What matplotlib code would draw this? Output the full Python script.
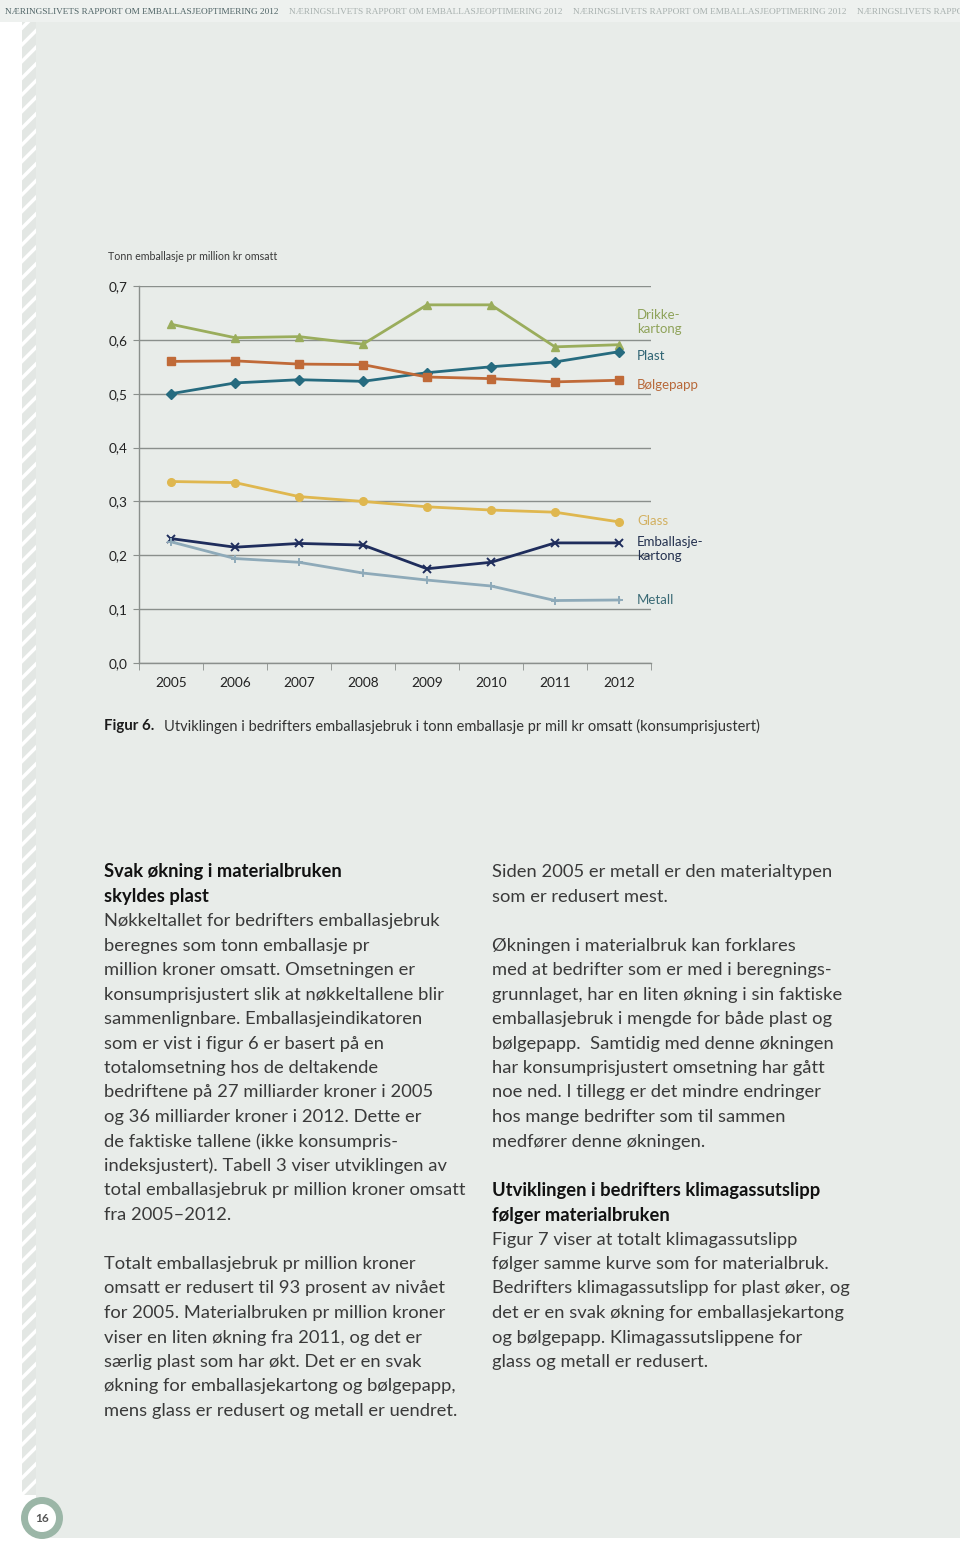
"""Figur 6: emballasjebruk pr million kr omsatt, with the surrounding report page."""

import matplotlib
matplotlib.use('Agg')
import matplotlib.pyplot as plt
from matplotlib.patches import Rectangle, Circle

W, H = 960, 1542

years = ['2005', '2006', '2007', '2008', '2009', '2010', '2011', '2012']
drikkekartong = [0.629, 0.604, 0.606, 0.592, 0.665, 0.665, 0.587, 0.591]
bolgepapp = [0.560, 0.561, 0.555, 0.554, 0.531, 0.528, 0.522, 0.525]
plast = [0.500, 0.520, 0.526, 0.523, 0.539, 0.550, 0.559, 0.578]
glass = [0.337, 0.335, 0.309, 0.300, 0.290, 0.284, 0.280, 0.262]
emballasjekartong = [0.231, 0.215, 0.222, 0.219, 0.175, 0.187, 0.223, 0.223]
metall = [0.225, 0.194, 0.187, 0.167, 0.154, 0.143, 0.116, 0.117]
y_ticks = [0.0, 0.1, 0.2, 0.3, 0.4, 0.5, 0.6, 0.7]
y_ticklabels = ['0,0', '0,1', '0,2', '0,3', '0,4', '0,5', '0,6', '0,7']

# (values, colour, marker, label, label colour, label y in px)
series = [
    (drikkekartong, '#9aad5c', '^', 'Drikke-\nkartong', '#8fa35a', 322),
    (plast, '#266b7f', 'D', 'Plast', '#2f6473', 356),
    (bolgepapp, '#c06a38', 's', 'Bølgepapp', '#b8693a', 385),
    (glass, '#dfb74f', 'o', 'Glass', '#d2b060', 521),
    (emballasjekartong, '#1f2d5c', 'x', 'Emballasje-\nkartong', '#24314f', 549),
    (metall, '#8eaab9', '+', 'Metall', '#3b6b76', 600),
]

left_col = [
    ('Svak økning i materialbruken', True),
    ('skyldes plast', True),
    ('Nøkkeltallet for bedrifters emballasjebruk', False),
    ('beregnes som tonn emballasje pr', False),
    ('million kroner omsatt. Omsetningen er', False),
    ('konsumprisjustert slik at nøkkeltallene blir', False),
    ('sammenlignbare. Emballasjeindikatoren', False),
    ('som er vist i figur 6 er basert på en', False),
    ('totalomsetning hos de deltakende', False),
    ('bedriftene på 27 milliarder kroner i 2005', False),
    ('og 36 milliarder kroner i 2012. Dette er', False),
    ('de faktiske tallene (ikke konsumpris-', False),
    ('indeksjustert). Tabell 3 viser utviklingen av', False),
    ('total emballasjebruk pr million kroner omsatt', False),
    ('fra 2005–2012.', False),
    ('', False),
    ('Totalt emballasjebruk pr million kroner', False),
    ('omsatt er redusert til 93 prosent av nivået', False),
    ('for 2005. Materialbruken pr million kroner', False),
    ('viser en liten økning fra 2011, og det er', False),
    ('særlig plast som har økt. Det er en svak', False),
    ('økning for emballasjekartong og bølgepapp,', False),
    ('mens glass er redusert og metall er uendret.', False),
]

right_col = [
    ('Siden 2005 er metall er den materialtypen', False),
    ('som er redusert mest.', False),
    ('', False),
    ('Økningen i materialbruk kan forklares', False),
    ('med at bedrifter som er med i beregnings-', False),
    ('grunnlaget, har en liten økning i sin faktiske', False),
    ('emballasjebruk i mengde for både plast og', False),
    ('bølgepapp.  Samtidig med denne økningen', False),
    ('har konsumprisjustert omsetning har gått', False),
    ('noe ned. I tillegg er det mindre endringer', False),
    ('hos mange bedrifter som til sammen', False),
    ('medfører denne økningen.', False),
    ('', False),
    ('Utviklingen i bedrifters klimagassutslipp', True),
    ('følger materialbruken', True),
    ('Figur 7 viser at totalt klimagassutslipp', False),
    ('følger samme kurve som for materialbruk.', False),
    ('Bedrifters klimagassutslipp for plast øker, og', False),
    ('det er en svak økning for emballasjekartong', False),
    ('og bølgepapp. Klimagassutslippene for', False),
    ('glass og metall er redusert.', False),
]

HEADER = 'NÆRINGSLIVETS RAPPORT OM EMBALLASJEOPTIMERING 2012'
BG = '#e8ece9'
SANS = ['Lato', 'DejaVu Sans']


def fx(x):
    return x / W


def fy(y):
    return 1 - y / H


fig = plt.figure(figsize=(W / 100, H / 100), dpi=100, facecolor='white')

# page background, header band and hatched strip
fig.patches.append(Rectangle((fx(36), fy(1538)), fx(924), 1538 / H,
                             transform=fig.transFigure, facecolor=BG,
                             edgecolor='none', zorder=-3))
fig.patches.append(Rectangle((0, fy(22)), 1, 22 / H,
                             transform=fig.transFigure, facecolor='#eef1ef',
                             edgecolor='none', zorder=-3))
plt.rcParams['hatch.linewidth'] = 2.5
fig.patches.append(Rectangle((fx(22), fy(1495)), fx(14), 1473 / H,
                             transform=fig.transFigure, facecolor='#e3e7e4',
                             edgecolor='white', hatch='//', lw=0, zorder=-3))

for i, x0 in enumerate([5, 289, 573, 857]):
    fig.text(fx(x0), fy(12), HEADER, fontsize=6.7, family='Liberation Serif',
             color='#4f6466' if i == 0 else '#a7b0ae', va='center')

# chart
ax = fig.add_axes([fx(139), fy(663), fx(651 - 139), (663 - 286) / H])
ax.set_zorder(2)
ax.set_facecolor('none')
x = range(len(years))
for values, color, marker, label, lcolor, ly in series:
    ms = 6 if marker in ('x', '+') else 5.5
    ax.plot(x, values, color=color, lw=2, marker=marker, ms=ms,
            mew=1.4 if marker in ('x', '+') else 1, zorder=3)
    fig.text(fx(637), fy(ly), label, color=lcolor, fontsize=9.5,
             family=SANS, va='center', linespacing=1.15)

ax.set_xlim(-0.5, len(years) - 0.5)
ax.set_ylim(0, 0.7)
ax.set_yticks(y_ticks)
ax.set_yticklabels(y_ticklabels)
ax.set_xticks(list(x))
ax.set_xticklabels(years)
ax.set_xticks([i - 0.5 for i in range(len(years) + 1)], minor=True)
ax.tick_params(axis='x', which='major', length=0, pad=10, labelsize=9.8,
               labelcolor='#222222')
ax.tick_params(axis='x', which='minor', length=5, color='#8a8f8c',
               direction='out')
ax.tick_params(axis='y', length=4, color='#8a8f8c', pad=4, labelsize=9.8,
               labelcolor='#222222')
for label in ax.get_xticklabels() + ax.get_yticklabels():
    label.set_family(SANS)
ax.grid(axis='y', color='#8a8f8c', lw=1)
ax.set_axisbelow(True)
for side in ('top', 'right'):
    ax.spines[side].set_visible(False)
for side in ('left', 'bottom'):
    ax.spines[side].set_color('#8a8f8c')
    ax.spines[side].set_linewidth(1)

fig.text(fx(108), fy(257), 'Tonn emballasje pr million kr omsatt',
         fontsize=7.7, family=SANS, color='#3a3a3a', va='center')

# caption
fig.text(fx(104), fy(726), 'Figur 6.', fontsize=10.8, family=SANS,
         weight='bold', color='#1c1c1c', va='center')
fig.text(fx(164), fy(726),
         'Utviklingen i bedrifters emballasjebruk i tonn emballasje pr mill kr '
         'omsatt (konsumprisjustert)', fontsize=10.55, family=SANS,
         color='#333333', va='center')

# body text
for x0, lines in ((104, left_col), (492, right_col)):
    for i, (line, bold) in enumerate(lines):
        if not line:
            continue
        fig.text(fx(x0), fy(872 + i * 24.5), line, fontsize=13.2, family=SANS,
                 weight='bold' if bold else 'normal',
                 color='#111111' if bold else '#3a3a3a', va='center')

# page number
fig.patches.append(Circle((0.42, (H - 1518) / 100), 0.175,
                          transform=fig.dpi_scale_trans, facecolor='white',
                          edgecolor='#9bb6a7', lw=5, zorder=2))
fig.text(fx(42), fy(1518), '16', fontsize=8.5, family=SANS, weight='bold',
         color='#555555', ha='center', va='center', zorder=3)

fig.savefig('out.png', dpi=100, facecolor=fig.get_facecolor())
